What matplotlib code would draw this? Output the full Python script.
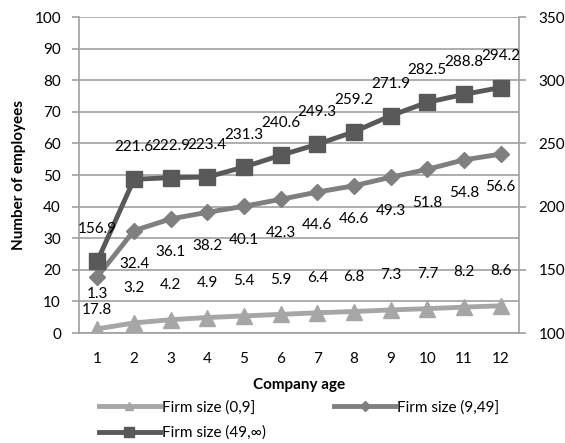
import matplotlib
matplotlib.use("Agg")
import matplotlib.pyplot as plt
from matplotlib.lines import Line2D

plt.rcParams['font.family'] = ['Lato', 'DejaVu Sans']

ages = [1, 2, 3, 4, 5, 6, 7, 8, 9, 10, 11, 12]
small = [1.3, 3.2, 4.2, 4.9, 5.4, 5.9, 6.4, 6.8, 7.3, 7.7, 8.2, 8.6]
medium = [17.8, 32.4, 36.1, 38.2, 40.1, 42.3, 44.6, 46.6, 49.3, 51.8, 54.8, 56.6]
large = [156.9, 221.6, 222.9, 223.4, 231.3, 240.6, 249.3, 259.2, 271.9, 282.5, 288.8, 294.2]
names = ['Firm size (0,9]', 'Firm size (9,49]', 'Firm size (49,\u221e)']

c_small = '#a6a6a6'
c_med = '#7f7f7f'
c_large = '#595959'
grid_c = '#a0a0a0'

fig = plt.figure(figsize=(5.65, 4.43), dpi=100)
ax = fig.add_axes([0.1398, 0.2483, 0.7788, 0.7133])
ax2 = ax.twinx()

ax.plot(ages, small, color=c_small, lw=3.5, marker='^', ms=11, zorder=3)
ax.plot(ages, medium, color=c_med, lw=3.5, marker='D', ms=8, zorder=3)
ax2.plot(ages, large, color=c_large, lw=3.5, marker='s', ms=11, zorder=3)

fs = 11
for x, v in zip(ages, small):
    ax.annotate(f'{v}', (x, v), xytext=(0, 25), textcoords='offset points',
                ha='center', va='center', fontsize=fs, color='black')
for x, v in zip(ages, medium):
    ax.annotate(f'{v}', (x, v), xytext=(0, -24), textcoords='offset points',
                ha='center', va='center', fontsize=fs, color='black')
for x, v in zip(ages, large):
    ax2.annotate(f'{v}', (x, v), xytext=(0, 23), textcoords='offset points',
                 ha='center', va='center', fontsize=fs, color='black')

ax.set_xlim(0.5, 12.5)
ax.set_ylim(0, 100)
ax2.set_ylim(100, 350)
ax.set_yticks(range(0, 101, 10))
ax2.set_yticks(range(100, 351, 50))
ax.set_xticks(ages)
ax.grid(axis='y', color=grid_c, lw=1.2)
ax.set_axisbelow(True)

for a in (ax, ax2):
    for s in a.spines.values():
        s.set_visible(False)
ax.spines['left'].set_visible(True)
ax.spines['bottom'].set_visible(True)
ax2.spines['right'].set_visible(True)
for s in (ax.spines['left'], ax.spines['bottom'], ax2.spines['right']):
    s.set_color(grid_c)
    s.set_linewidth(1.2)

ax.tick_params(axis='y', length=5, color=grid_c, width=1.2, labelsize=fs, pad=8)
ax.tick_params(axis='x', length=0, labelsize=fs, pad=14)
ax2.tick_params(axis='y', length=5, color=grid_c, width=1.2, labelsize=fs, pad=9)

ax.set_ylabel('Number of employees', fontsize=11, fontweight='bold', labelpad=6)
ax.set_xlabel('Company age', fontsize=11, fontweight='bold', labelpad=8)

# column-wise fill: col1 = small, large ; col2 = medium
handles = [
    Line2D([], [], color=c_small, lw=3.5, marker='^', ms=6),
    Line2D([], [], color=c_large, lw=3.5, marker='s', ms=7),
    Line2D([], [], color=c_med, lw=3.5, marker='D', ms=5),
]
labels = [names[0], names[2], names[1]]
fig.legend(handles, labels, loc='upper left', bbox_to_anchor=(0.175, 0.096),
           ncol=2, frameon=False, fontsize=fs, handlelength=4,
           handletextpad=0.1, columnspacing=4.5, labelspacing=0.72,
           borderpad=0, borderaxespad=0)

fig.savefig('out.png', dpi=100)
